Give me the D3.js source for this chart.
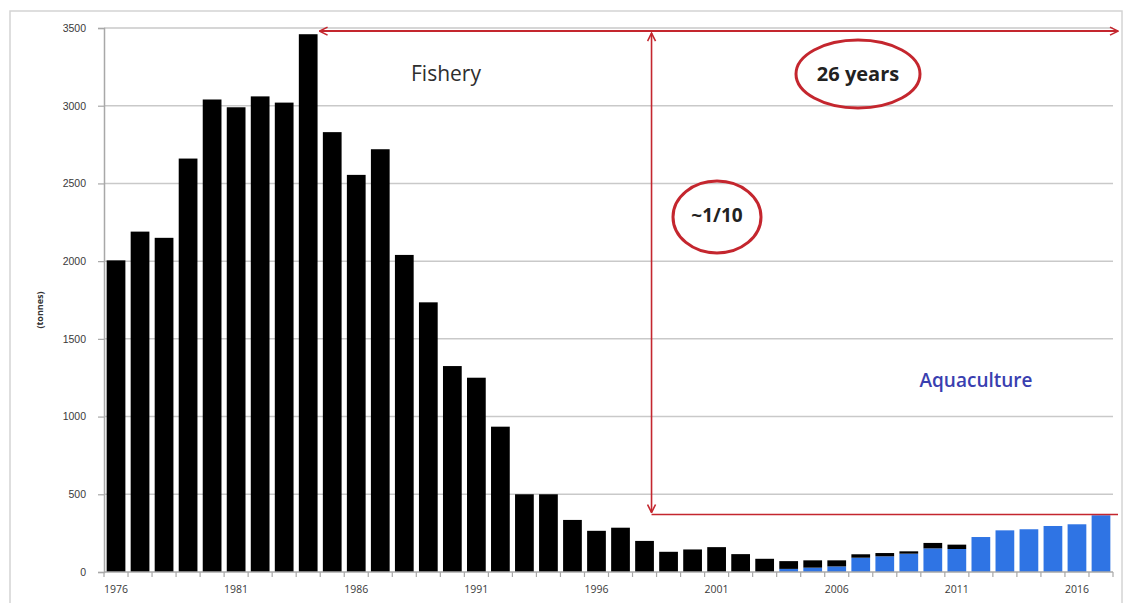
<!DOCTYPE html>
<html>
<head>
<meta charset="utf-8">
<script src="https://cdn.jsdelivr.net/npm/d3@7"></script>
<style>
  body { margin: 0; background: #fff; }
  svg { display: block; font-family: "Open Sans", "Liberation Sans", sans-serif; }
</style>
</head>
<body>
<div id="chart"></div>
<script>
// catch, tonnes per year (stacked: aquaculture at the bottom, fishery on top)
const years = d3.range(1976, 2018);
const fishery = [2005, 2190, 2150, 2660, 3040, 2990, 3060, 3020, 3460, 2830,
                 2555, 2720, 2040, 1735, 1325, 1250, 935, 500, 500, 335,
                 265, 285, 200, 130, 145, 160, 115, 85, 50, 47,
                 39, 22, 21, 15, 35, 28, 0, 0, 0, 0, 0, 0];
const aquaculture = [0, 0, 0, 0, 0, 0, 0, 0, 0, 0,
                     0, 0, 0, 0, 0, 0, 0, 0, 0, 0,
                     0, 0, 0, 0, 0, 0, 0, 0, 20, 28,
                     36, 92, 101, 118, 152, 148, 225, 268, 275, 296, 307, 365];
const yTicks = [0, 500, 1000, 1500, 2000, 2500, 3000, 3500];
const xTickYears = [1976, 1981, 1986, 1991, 1996, 2001, 2006, 2011, 2016];

const W = 1126, H = 603;
const plotL = 104, plotR = 1113, plotT = 28, plotB = 572;

const svg = d3.select("#chart").append("svg")
    .attr("width", W).attr("height", H);

// outer frame
svg.append("rect").attr("x", 10).attr("y", 11).attr("width", 1112).attr("height", 600)
    .attr("fill", "none").attr("stroke", "#d4d4d4").attr("stroke-width", 1.5);

const x = d3.scaleBand().domain(years).range([plotL, plotR]).paddingInner(0.22).paddingOuter(0.11);
const y = d3.scaleLinear().domain([0, 3500]).range([plotB, plotT]);

// grid
svg.append("g").selectAll("line").data(yTicks.filter(d => d > 0)).join("line")
    .attr("x1", plotL).attr("x2", plotR)
    .attr("y1", d => y(d)).attr("y2", d => y(d))
    .attr("stroke", "#c9c9c9").attr("stroke-width", 1.5);

// y axis
const yAxis = svg.append("g").attr("transform", `translate(${plotL},0)`)
    .call(d3.axisLeft(y).tickValues(yTicks).tickFormat(d3.format("d")).tickSize(6).tickPadding(12));
yAxis.select(".domain").attr("stroke", "#a8a8a8").attr("stroke-width", 1.5);
yAxis.selectAll(".tick line").attr("stroke", "#a8a8a8").attr("stroke-width", 1.2);
yAxis.selectAll(".tick text").attr("fill", "#3a3a3a").style("font-size", "10.5px");

svg.append("text")
    .attr("transform", `translate(43,${(plotT + plotB) / 2 + 10}) rotate(-90)`)
    .attr("text-anchor", "middle")
    .style("font-size", "9px").style("font-weight", "bold").attr("fill", "#333")
    .text("(tonnes)");

// stacked bars
const rows = years.map((yr, i) => ({ year: yr, aquaculture: aquaculture[i], fishery: fishery[i] }));
const series = d3.stack().keys(["aquaculture", "fishery"])(rows);
const colors = { aquaculture: "#2f74e4", fishery: "#000000" };

svg.append("g").selectAll("g").data(series).join("g")
    .attr("fill", d => colors[d.key])
  .selectAll("rect").data(d => d.filter(v => v[1] > v[0])).join("rect")
    .attr("x", d => x(d.data.year))
    .attr("width", x.bandwidth())
    .attr("y", d => y(d[1]))
    .attr("height", d => y(d[0]) - y(d[1]));

// x axis: baseline, ticks between categories, labels every 5 years
svg.append("line").attr("x1", plotL).attr("x2", plotR).attr("y1", plotB).attr("y2", plotB)
    .attr("stroke", "#a8a8a8").attr("stroke-width", 1.5);
const step = x.step();
svg.append("g").selectAll("line").data(years.concat([2018])).join("line")
    .attr("x1", d => plotL + (d - 1976) * step).attr("x2", d => plotL + (d - 1976) * step)
    .attr("y1", plotB).attr("y2", plotB + 5)
    .attr("stroke", "#a8a8a8").attr("stroke-width", 1.2);
svg.append("g").selectAll("text").data(xTickYears).join("text")
    .attr("x", d => x(d) + x.bandwidth() / 2)
    .attr("y", plotB + 21)
    .attr("text-anchor", "middle")
    .style("font-size", "10.5px").attr("fill", "#3a3a3a")
    .text(d => d);

// annotations
const red = "#c4262e";
const defs = svg.append("defs");
defs.append("marker").attr("id", "arr").attr("viewBox", "0 0 10 10")
    .attr("refX", 9).attr("refY", 5).attr("markerWidth", 10).attr("markerHeight", 10)
    .attr("markerUnits", "userSpaceOnUse").attr("orient", "auto-start-reverse")
  .append("path").attr("d", "M1,1 L9,5 L1,9").attr("fill", "none")
    .attr("stroke", red).attr("stroke-width", 1.6);

const peakX = x(1984) + x.bandwidth();
const topY = y(3480);
const lowY = y(370);
const vX = x(1998) + x.bandwidth() / 2 + 7;

svg.append("line").attr("x1", peakX + 2).attr("x2", 1118).attr("y1", topY).attr("y2", topY)
    .attr("stroke", red).attr("stroke-width", 2)
    .attr("marker-start", "url(#arr)").attr("marker-end", "url(#arr)");
svg.append("line").attr("x1", vX).attr("x2", vX).attr("y1", topY + 2).attr("y2", lowY - 2)
    .attr("stroke", red).attr("stroke-width", 1.6)
    .attr("marker-start", "url(#arr)").attr("marker-end", "url(#arr)");
svg.append("line").attr("x1", vX).attr("x2", 1118).attr("y1", lowY).attr("y2", lowY)
    .attr("stroke", red).attr("stroke-width", 1.6);

svg.append("ellipse").attr("cx", 858).attr("cy", 74).attr("rx", 62).attr("ry", 34)
    .attr("fill", "none").attr("stroke", red).attr("stroke-width", 3);
svg.append("text").attr("x", 858).attr("y", 81).attr("text-anchor", "middle")
    .style("font-size", "20px").style("font-weight", "bold").attr("fill", "#222")
    .text("26 years");

svg.append("ellipse").attr("cx", 717).attr("cy", 217).attr("rx", 44).attr("ry", 36)
    .attr("fill", "none").attr("stroke", red).attr("stroke-width", 3);
svg.append("text").attr("x", 717).attr("y", 222).attr("text-anchor", "middle")
    .style("font-size", "19px").style("font-weight", "bold").attr("fill", "#222")
    .text("~1/10");

svg.append("text").attr("x", 446).attr("y", 81).attr("text-anchor", "middle")
    .style("font-size", "21px").style("font-weight", "500").attr("fill", "#2e2e2e")
    .text("Fishery");

svg.append("text").attr("x", 976).attr("y", 387).attr("text-anchor", "middle")
    .style("font-size", "19px").style("font-weight", "600").attr("fill", "#3a3fb0")
    .text("Aquaculture");
</script>
</body>
</html>
